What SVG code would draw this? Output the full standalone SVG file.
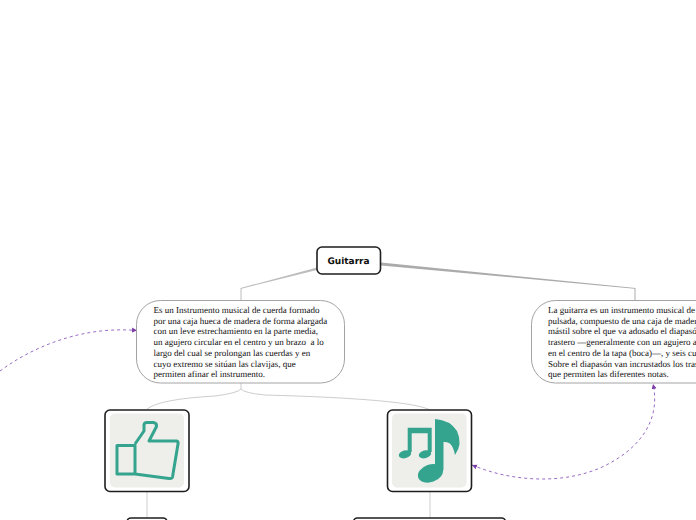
<svg xmlns="http://www.w3.org/2000/svg" width="696" height="520" viewBox="0 0 696 520">
<defs>
<marker id="ah" markerWidth="6" markerHeight="6" refX="5" refY="3" orient="auto-start-reverse" markerUnits="userSpaceOnUse"><path d="M0 0.5L5 3L0 5.5Z" fill="#7b3fa6"/></marker>
</defs>
<style>
.body{fill:#fff;stroke:#a3a3a3;stroke-width:1}
.box{fill:#fff;stroke:#1e1e1e;stroke-width:1.6}
.t{font-family:"Liberation Serif",serif;font-size:9px;fill:#111;white-space:pre;text-rendering:geometricPrecision}
.c{fill:none;stroke:#cdcdcd;stroke-width:1}
.rel{fill:none;stroke:#9a6cc4;stroke-width:1;stroke-dasharray:3 3;marker-end:url(#ah)}
.bg{fill:#eeeeea}
.ic{fill:#35a48f}
</style>
<rect width="696" height="520" fill="#fff"/>
<g id="connectors">
<path d="M240.500 301V288L317 267.500V270L241.500 288.700V301Z" fill="#bdbdbd"/>
<path d="M381 262.500L635.500 288V301H634.500V288.700L381 265.500Z" fill="#ababab"/>
<path class="c" d="M241 383V389Q238 393 215 396Q160 399 147 409"/>
<path class="c" d="M241 389Q244 393 265 395Q410 399 430 410"/>
<path class="c" d="M147 491V518"/>
<path class="c" d="M430 491V518"/>
<path class="rel" d="M0 371C35 345 85 326 137 330.500"/>
<path class="rel" d="M472 465C510 481 560 485 600 468C640 450 661 420 653 384" style="marker-start:url(#ah)"/>
</g>
<g id="root"><rect class="box" x="317" y="247" width="63.500" height="27" rx="5"/><text x="348.500" y="264" text-anchor="middle" font-family="'DejaVu Sans',sans-serif" font-size="9px" font-weight="700" fill="#111" text-rendering="geometricPrecision">Guitarra</text></g>
<g id="n1"><rect class="body" x="136.500" y="300.500" width="208" height="82.500" rx="24"/>
<text class="t"><tspan x="153.500" y="313">Es un Instrumento musical de cuerda formado</tspan><tspan x="153.500" y="323.700">por una caja hueca de madera de forma alargada</tspan><tspan x="153.500" y="334.400">con un leve estrechamiento en la parte media,</tspan><tspan x="153.500" y="345.100">un agujero circular en el centro y un brazo  a lo</tspan><tspan x="153.500" y="355.800">largo del cual se prolongan las cuerdas y en</tspan><tspan x="153.500" y="366.500">cuyo extremo se sitúan las clavijas, que</tspan><tspan x="153.500" y="377">permiten afinar el instrumento.</tspan></text></g>
<g id="n2"><rect class="body" x="531.500" y="300.500" width="208" height="82.500" rx="24"/>
<text class="t"><tspan x="548" y="313">La guitarra es un instrumento musical de cuerda</tspan><tspan x="548" y="323.700">pulsada, compuesto de una caja de madera, un</tspan><tspan x="548" y="334.400">mástil sobre el que va adosado el diapasón o</tspan><tspan x="548" y="345.100">trastero —generalmente con un agujero acústico</tspan><tspan x="548" y="355.800">en el centro de la tapa (boca)—, y seis cuerdas.</tspan><tspan x="548" y="366.500">Sobre el diapasón van incrustados los trastes</tspan><tspan x="548" y="377">que permiten las diferentes notas.</tspan></text></g>
<g id="n3"><rect class="box" x="105" y="410" width="84" height="81.500" rx="5"/><rect class="bg" x="110" y="413.500" width="74" height="74" rx="5"/>
<path d="M117 445.500H135V474H117ZM135 444L144 431V424.500Q144.500 422.500 147 422.500H153.500Q157 423 156.500 426.500L149 441H176.500Q178.500 441.500 178 444L172.500 477Q172 479 169 478.500L135 474" fill="none" stroke="#35a48f" stroke-width="3" stroke-linejoin="round"/></g>
<g id="n4"><rect class="box" x="387.500" y="410" width="84" height="81.500" rx="5"/><rect class="bg" x="392" y="413.500" width="74.500" height="74" rx="5"/>
<path class="ic" d="M407.700 427.700H431.700V452H427.700V433.300H411.700V452H407.700Z"/><ellipse class="ic" cx="405" cy="454.300" rx="6.300" ry="3.900" transform="rotate(-15 405 454.300)"/><ellipse class="ic" cx="425" cy="454.300" rx="6.300" ry="3.900" transform="rotate(-15 425 454.300)"/>
<path class="ic" d="M435 419Q450 420 457 431Q463 444 455 455Q453 445 449 443Q446 441.500 443.500 442V470H435Z"/><ellipse class="ic" cx="430.500" cy="473.300" rx="13" ry="8.800" transform="rotate(-20 430.500 473.300)"/></g>
<g id="n5"><rect class="box" x="127" y="518" width="40" height="20" rx="4"/></g>
<g id="n6"><rect class="box" x="353.500" y="518" width="152" height="20" rx="4"/></g>
</svg>
